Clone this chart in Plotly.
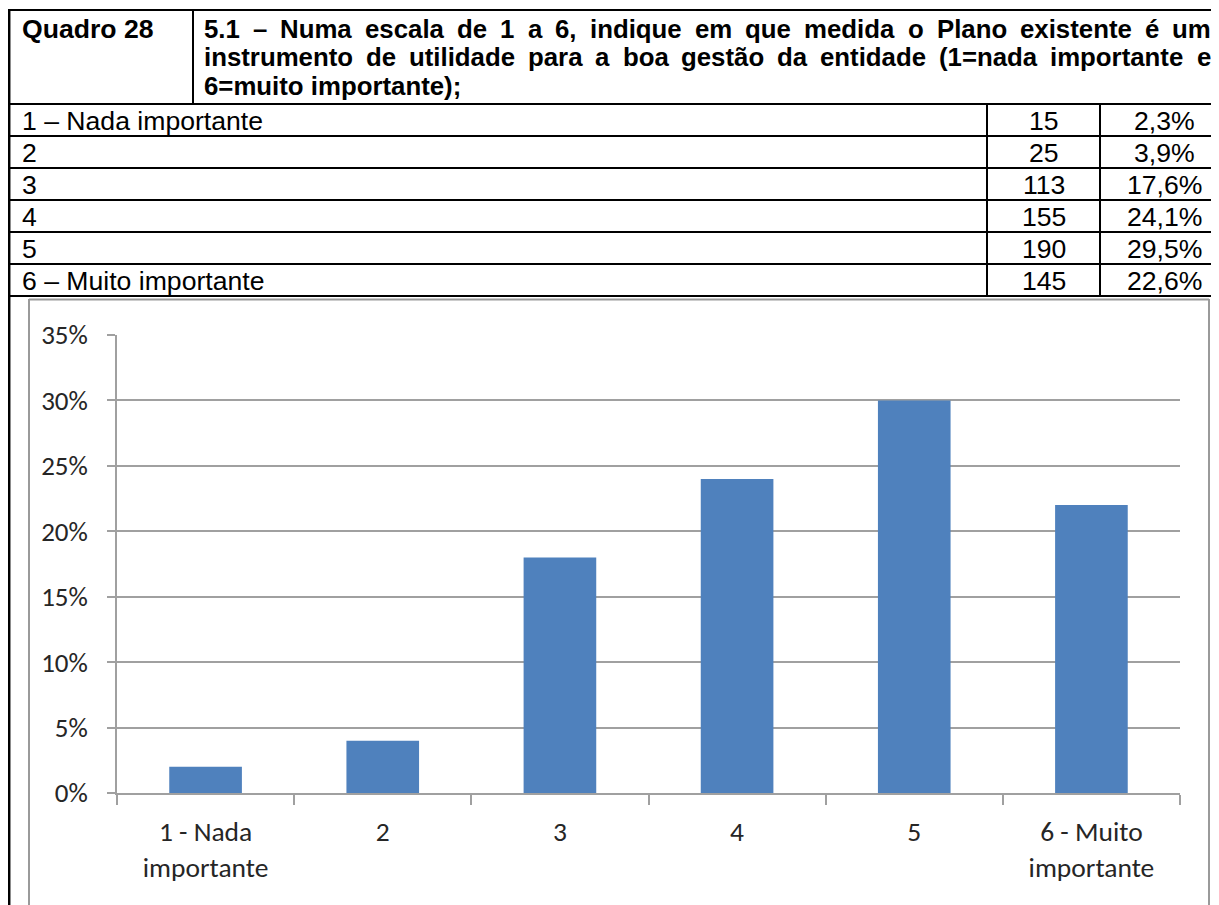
import plotly.graph_objects as go

# ---------------- data ----------------
table_number = "Quadro 28"
question_lines = [
    "5.1 – Numa escala de 1 a 6, indique em que medida o Plano existente é um",
    "instrumento de utilidade para a boa gestão da entidade (1=nada importante e",
    "6=muito importante);",
]
table_labels = ["1 – Nada importante", "2", "3", "4", "5", "6 – Muito importante"]
table_counts = [15, 25, 113, 155, 190, 145]
table_percents = ["2,3%", "3,9%", "17,6%", "24,1%", "29,5%", "22,6%"]

categories = ["1 - Nada<br>importante", "2", "3", "4", "5", "6 - Muito<br>importante"]
chart_values = [2, 4, 18, 24, 30, 22]
y_tick_values = [0, 5, 10, 15, 20, 25, 30, 35]
y_tick_labels = ["0%", "5%", "10%", "15%", "20%", "25%", "30%", "35%"]

# ---------------- geometry helpers ----------------
W, H = 1219, 905
OFF = 8  # page body margin: the figure starts 8px in from the page corner


def px(x):
    return (x - OFF) / W


def py(y):
    return 1 - (y - OFF) / H


TABLE_FONT = "Liberation Sans, Arial, sans-serif"
CHART_FONT = "Carlito, Calibri, 'Open Sans', sans-serif"
FS = 25.8       # header question
FS_BODY = 26.6  # table body

# Arial Bold advance widths (per 1000 em) used to justify header lines
BOLD_W = {
    " ": 278, "(": 333, ")": 333, ",": 278, "-": 333, ".": 278, ";": 333, "=": 584,
    "–": 556, "A": 722, "P": 667, "N": 722, "Q": 778,
    "a": 556, "b": 611, "c": 556, "d": 611, "e": 556, "f": 333, "g": 611, "h": 611,
    "i": 278, "j": 278, "k": 556, "l": 278, "m": 889, "n": 611, "o": 611, "p": 611,
    "q": 611, "r": 389, "s": 556, "t": 333, "u": 611, "v": 556, "w": 778, "x": 556,
    "y": 556, "z": 500, "é": 556, "ã": 556,
}


def wwidth(word, size):
    return sum(BOLD_W.get(c, 556) for c in word) / 1000.0 * size


fig = go.Figure()

fig.add_trace(go.Bar(
    x=categories, y=chart_values,
    marker=dict(color="#4F81BD", line=dict(width=0)),
    hoverinfo="skip",
))

shapes = []
BLACK = "#000000"


def hline(y, x0, x1, color=BLACK, w=2):
    shapes.append(dict(type="line", xref="paper", yref="paper",
                       x0=px(x0), x1=px(x1), y0=py(y), y1=py(y),
                       line=dict(color=color, width=w)))


def vline(x, y0, y1, color=BLACK, w=2):
    shapes.append(dict(type="line", xref="paper", yref="paper",
                       x0=px(x), x1=px(x), y0=py(y0), y1=py(y1),
                       line=dict(color=color, width=w)))


# table borders
hline(10, 8, 1240)
vline(9.2, 9, 930, w=2.5)
vline(193, 10, 104)
row_edges = [104, 136, 168, 200, 232, 264, 296]
for y in row_edges:
    hline(y, 8, 1240)
vline(987, 104, 296)
vline(1100, 104, 296)

# chart frame
GRAYF = "#9A9A9A"
hline(299.5, 29, 1209, GRAYF, 2)
vline(29, 299, 930, GRAYF, 2)
vline(1209, 299, 930, GRAYF, 2)

annotations = []


def text(x, y, s, anchor="left", bold=False, size=FS):
    annotations.append(dict(
        xref="paper", yref="paper", x=px(x), y=py(y), text=("<b>%s</b>" % s) if bold else s,
        showarrow=False, xanchor=anchor, yanchor="middle", borderpad=0, borderwidth=0,
        font=dict(family=TABLE_FONT, size=size, color="#000000"),
    ))


text(22, 29, table_number, bold=True, size=FS_BODY)

header_y = [29, 57.5, 86]
X0, X1 = 204, 1211
for i, line in enumerate(question_lines):
    words = line.split(" ")
    if i < len(question_lines) - 1:
        natural = sum(wwidth(w, FS) for w in words)
        gap = (X1 - X0 - natural) / (len(words) - 1)
        x = X0
        for w in words:
            text(x, header_y[i], w, bold=True)
            x += wwidth(w, FS) + gap
    else:
        text(X0, header_y[i], line, bold=True)

for i, lab in enumerate(table_labels):
    yc = (row_edges[i] + row_edges[i + 1]) / 2 + 1
    text(22, yc, lab, size=FS_BODY)
    text(1043.5, yc, str(table_counts[i]), anchor="center", size=FS_BODY)
    text(1164, yc, table_percents[i], anchor="center", size=FS_BODY)

AX = "#A0A0A0"
fig.update_layout(
    template="none",
    width=W, height=H,
    margin=dict(l=0, r=0, t=0, b=0, pad=0, autoexpand=False),
    paper_bgcolor="white", plot_bgcolor="white",
    showlegend=False,
    bargap=0.59,
    shapes=shapes,
    annotations=annotations,
    xaxis=dict(
        type="category",
        domain=[px(117), px(1180)],
        automargin=False,
        showline=True, linecolor=AX, linewidth=1.5,
        ticks="outside", ticklen=10, tickcolor=AX, tickwidth=1.5,
        tickson="boundaries",
        showgrid=False, zeroline=False,
        tickfont=dict(family=CHART_FONT, size=27.5, color="#262626"),
        ticklabelstandoff=13,
    ),
    yaxis=dict(
        domain=[py(793), py(335)],
        automargin=False,
        range=[0, 35],
        tickvals=y_tick_values, ticktext=y_tick_labels,
        showline=True, linecolor=AX, linewidth=1.5,
        ticks="outside", ticklen=8, tickcolor=AX, tickwidth=1.5,
        showgrid=True, gridcolor=AX, gridwidth=1.5,
        zeroline=False,
        tickfont=dict(family=CHART_FONT, size=27, color="#262626"),
        ticklabelstandoff=14,
    ),
)

fig.write_html("out.html")
